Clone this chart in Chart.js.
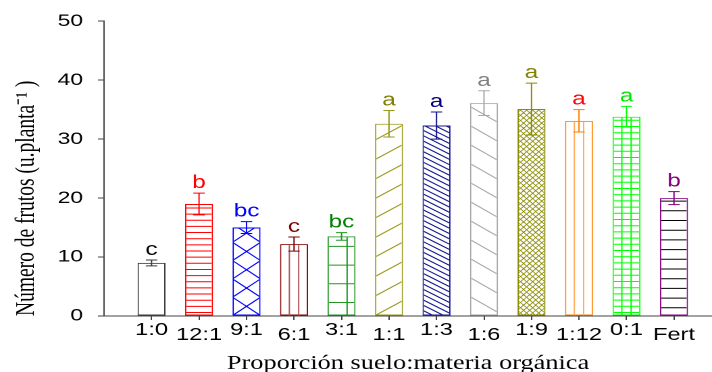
<!DOCTYPE html>
<html>
<head>
<meta charset="utf-8">
<script src="https://cdn.jsdelivr.net/npm/chart.js@4.4.1/dist/chart.umd.min.js"></script>
<style>
  html, body { margin: 0; padding: 0; background: #fff; overflow: hidden; }
  #wrap { position: absolute; left: 0; top: 0; width: 527px; height: 372px;
          transform: scaleX(1.351); transform-origin: 0 0; }
</style>
</head>
<body>
<div id="wrap"><canvas id="c"></canvas></div>
<script>
// ---- data ----
const categories = ['1:0', '12:1', '9:1', '6:1', '3:1', '1:1', '1:3', '1:6', '1:9', '1:12', '0:1', 'Fert'];
const means      = [9.0, 19.0, 15.0, 12.2, 13.5, 32.6, 32.3, 36.1, 35.1, 33.1, 33.8, 20.0];
const errors     = [0.5, 1.85, 1.0, 1.2, 0.65, 2.25, 2.3, 2.1, 4.4, 1.9, 1.75, 1.1];
const letters    = ['c', 'b', 'bc', 'c', 'bc', 'a', 'a', 'a', 'a', 'a', 'a', 'b'];
const yTicks     = [0, 10, 20, 30, 40, 50];
const xTitle = 'Proporción suelo:materia orgánica';
const yTitle = 'Número de frutos (u.planta⁻¹ )';

// ---- styles ----
const letterColors = ['#000000', '#ff0000', '#0000ff', '#800000', '#008000', '#808000',
                      '#000080', '#808080', '#808000', '#ff0000', '#00e600', '#800080'];
const barStyles = [
  { c: '#3a3a3a', p: [] },
  { c: '#ff0000', p: [{ h: 6.15, off: 3 }] },
  { c: '#0000ff', p: [{ d: 18.3, drop: 18.3, dir: 1 }, { d: 18.3, drop: 18.3, dir: -1 }] },
  { c: '#800000', p: [{ v: [1 / 3, 2 / 3], color: '#b05858' }] },
  { c: '#229622', p: [{ v: [0.7] }, { h: 18.7, off: 13 }] },
  { c: '#9a9a1a', p: [{ d: 19.5, drop: 15, dir: 1 }] },
  { c: '#151590', p: [{ d: 5.3, drop: 14, dir: -1 }] },
  { c: '#a8a8a8', p: [{ d: 19, drop: 16, dir: -1 }] },
  { c: '#8a8a00', p: [{ d: 5.2, drop: 24, dir: 1, w: 0.7 }, { d: 5.2, drop: 24, dir: -1, w: 0.7 }] },
  { c: '#ff8000', p: [{ v: [1 / 3, 2 / 3], color: '#ffae60' }] },
  { c: '#00ff00', p: [{ v: [1 / 3, 2 / 3] }, { h: 6.2, off: 3 }] },
  { c: '#800080', p: [{ h: 9.7, off: 7.7, color: '#000000' }] }
];
const axisColor = '#444444';

function drawPat(ctx, pat, l, r, t, b, col) {
  ctx.beginPath();
  ctx.strokeStyle = pat.color || col;
  ctx.lineWidth = pat.w || 1;
  if (pat.h) {
    for (let yy = b - pat.off; yy > t; yy -= pat.h) { ctx.moveTo(l, yy); ctx.lineTo(r, yy); }
  } else if (pat.v) {
    pat.v.forEach(f => { const xx = l + (r - l) * f; ctx.moveTo(xx, t); ctx.lineTo(xx, b); });
  } else if (pat.d) {
    const k0 = -Math.ceil(pat.drop / pat.d) - 1;
    const k1 = Math.ceil((b - t + pat.drop) / pat.d) + 1;
    for (let k = k0; k <= k1; k++) {
      const y0 = b - k * pat.d;
      ctx.moveTo(l, y0); ctx.lineTo(r, y0 - pat.dir * pat.drop);
    }
  }
  ctx.stroke();
}

const hatchPlugin = {
  id: 'hatch',
  afterDatasetsDraw(chart) {
    const ctx = chart.ctx;
    const meta = chart.getDatasetMeta(0);
    const ys = chart.scales.y;
    meta.data.forEach((bar, i) => {
      const { x, y, base, width } = bar.getProps(['x', 'y', 'base', 'width'], true);
      const l = x - width / 2, r = x + width / 2, t = Math.min(y, base), b = Math.max(y, base);
      const st = barStyles[i];
      ctx.save();
      ctx.beginPath();
      ctx.rect(l + 1, t + 1, (r - l) - 2, (b - t) - 1);
      ctx.clip();
      st.p.forEach(p => drawPat(ctx, p, l, r, t, b, st.c));
      ctx.restore();

      // error bar
      const yTop = ys.getPixelForValue(means[i] + errors[i]);
      const yBot = ys.getPixelForValue(means[i] - errors[i]);
      const cap = 4.2;
      ctx.save();
      ctx.strokeStyle = st.c;
      ctx.lineWidth = 1;
      ctx.beginPath();
      ctx.moveTo(x, yTop); ctx.lineTo(x, yBot);
      ctx.moveTo(x - cap, yTop); ctx.lineTo(x + cap, yTop);
      ctx.moveTo(x - cap, yBot); ctx.lineTo(x + cap, yBot);
      ctx.stroke();
      // letter
      ctx.fillStyle = letterColors[i];
      ctx.font = '18px "Liberation Sans", Arial, sans-serif';
      ctx.textAlign = 'center';
      ctx.textBaseline = 'alphabetic';
      ctx.fillText(letters[i], x, yTop - 5);
      ctx.restore();
    });
  }
};

new Chart(document.getElementById('c'), {
  type: 'bar',
  data: {
    datasets: [{
      data: means.map((v, i) => ({ x: i + 1, y: v })),
      backgroundColor: '#ffffff',
      borderColor: barStyles.map(s => s.c),
      borderWidth: 1,
      borderSkipped: false,
      barPercentage: 0.589,
      categoryPercentage: 1
    }]
  },
  options: {
    responsive: true,
    maintainAspectRatio: false,
    animation: false,
    devicePixelRatio: 2,
    layout: { padding: { top: 19, left: 0, right: 0, bottom: 0 } },
    plugins: { legend: { display: false }, tooltip: { enabled: false } },
    scales: {
      x: {
        type: 'linear',
        min: 0,
        max: 12.8,
        offset: false,
        afterBuildTicks: s => { s.ticks = categories.map((c, i) => ({ value: i + 1 })); },
        afterFit: s => { s.height = 56; },
        ticks: {
          autoSkip: false, maxRotation: 0, minRotation: 0, padding: 7.5, color: '#000',
          font: { family: '"Liberation Sans", Arial, sans-serif', size: 17.5, lineHeight: '5px' },
          callback: (v) => { const i = Math.round(v) - 1; return i % 2 ? ['', categories[i]] : categories[i]; }
        },
        grid: { drawOnChartArea: false, drawTicks: true, tickLength: 4, color: axisColor, offset: false },
        border: { display: true, color: axisColor, width: 1 },
        title: {
          display: true, text: xTitle, color: '#000', padding: 0,
          font: { family: '"Liberation Serif", "Times New Roman", serif', size: 19.5, lineHeight: '16px' }
        }
      },
      y: {
        min: 0, max: 50,
        afterBuildTicks: s => { s.ticks = yTicks.map(v => ({ value: v })); },
        afterFit: s => { s.width = 77; },
        ticks: { padding: 11, color: '#000', font: { family: '"Liberation Sans", Arial, sans-serif', size: 17 } },
        grid: { drawOnChartArea: false, drawTicks: true, tickLength: 4.5, color: axisColor },
        border: { display: true, color: axisColor, width: 1 },
        title: {
          display: true, text: yTitle, align: 'start', color: '#000', padding: { top: 8, bottom: 0 },
          font: { family: '"Liberation Serif", "Times New Roman", serif', size: 19.5 }
        }
      }
    }
  },
  plugins: [hatchPlugin]
});
</script>
</body>
</html>
